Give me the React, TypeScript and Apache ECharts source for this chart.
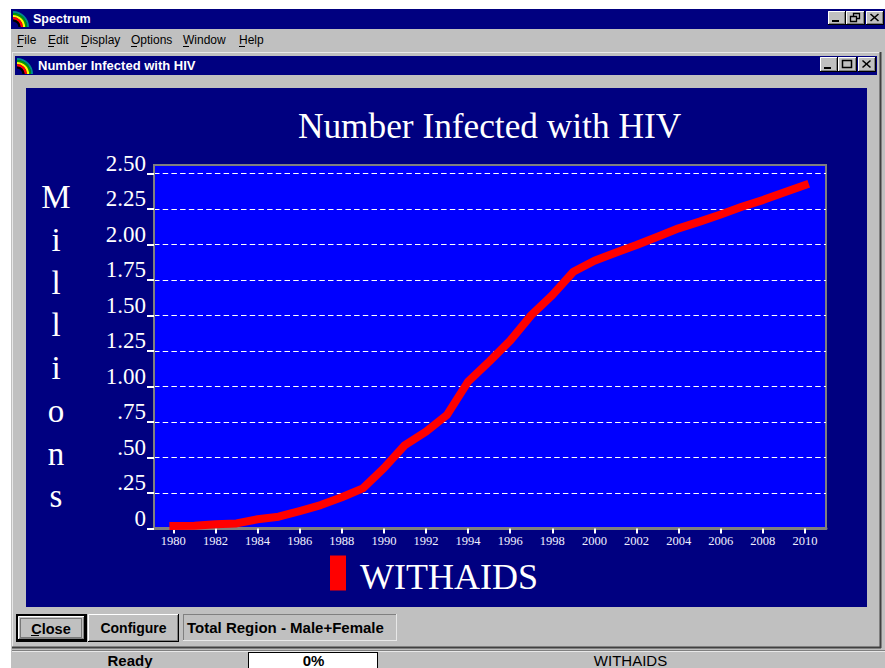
import React, { useEffect, useRef } from "react";
import * as echarts from "echarts";

const years = [1980,1981,1982,1983,1984,1985,1986,1987,1988,1989,1990,1991,1992,1993,1994,1995,1996,1997,1998,1999,2000,2001,2002,2003,2004,2005,2006,2007,2008,2009,2010];
const withAids = [0.018,0.02,0.03,0.036,0.065,0.083,0.123,0.165,0.22,0.283,0.425,0.588,0.682,0.8,1.034,1.175,1.323,1.503,1.644,1.808,1.886,1.942,1.996,2.055,2.114,2.161,2.212,2.266,2.313,2.367,2.419];
const xTickYears = [1980,1982,1984,1986,1988,1990,1992,1994,1996,1998,2000,2002,2004,2006,2008,2010];
const yTicks = [0,0.25,0.5,0.75,1,1.25,1.5,1.75,2,2.25,2.5];
const yTickLabels = ["0",".25",".50",".75","1.00","1.25","1.50","1.75","2.00","2.25","2.50"];
const menuItems: [string, number][] = [["File",17],["Edit",48],["Display",81],["Options",131],["Window",183],["Help",239]];

const GRAY = "#c0c0c0", NAVY = "#000080", DARK = "#808080", BLACK = "#000000", WHITE = "#ffffff";
const UI = "'Liberation Sans', sans-serif";

function rect(x: number, y: number, w: number, h: number, fill: string, extra: any = {}) {
  return { type: "rect", z: -1, silent: true, shape: { x, y, width: w, height: h }, style: { fill, ...extra } };
}
function line(x1: number, y1: number, x2: number, y2: number, stroke: string, lineWidth = 1, extra: any = {}) {
  return { type: "line", z: -1, silent: true, shape: { x1, y1, x2, y2 }, style: { stroke, lineWidth, ...extra } };
}
function label(text: string, x: number, y: number, font: string, fill = BLACK, align = "left") {
  return { type: "text", z: -1, silent: true, x, y, style: { text, font, fill, align, verticalAlign: "middle" } };
}
function bevel(x: number, y: number, w: number, h: number) {
  return [
    rect(x, y, w, h, GRAY),
    line(x + 0.5, y + 0.5, x + w - 1, y + 0.5, WHITE),
    line(x + 0.5, y + 0.5, x + 0.5, y + h - 1, WHITE),
    line(x + w - 0.5, y, x + w - 0.5, y + h, BLACK),
    line(x, y + h - 0.5, x + w, y + h - 0.5, BLACK),
    line(x + w - 1.5, y + 1, x + w - 1.5, y + h - 1, DARK),
    line(x + 1, y + h - 1.5, x + w - 1, y + h - 1.5, DARK),
  ];
}
function rainbow(cx: number, cy: number) {
  const arcs: [number, string, number][] = [[15, "#008c8c", 2], [13, "#00a000", 2], [11, "#ffff00", 2.2], [8.8, "#ff0000", 2.4], [6.5, "#000000", 2.2]];
  return arcs.map(([r, c, w]) => ({
    type: "arc", z: -1, silent: true,
    shape: { cx, cy, r, startAngle: Math.PI * 1.5, endAngle: Math.PI * 2, clockwise: true },
    style: { stroke: c, lineWidth: w, fill: "none" },
  }));
}
function btnMin(x: number, y: number, w: number, h: number) {
  return [...bevel(x, y, w, h), rect(x + 4, y + h - 5, 7, 2, BLACK)];
}
function btnClose(x: number, y: number, w: number, h: number) {
  const cx = x + w / 2 - 0.5, cy = y + h / 2 - 0.5;
  return [...bevel(x, y, w, h), line(cx - 4, cy - 3.5, cx + 4, cy + 3.5, BLACK, 1.6), line(cx + 4, cy - 3.5, cx - 4, cy + 3.5, BLACK, 1.6)];
}
function btnMax(x: number, y: number, w: number, h: number) {
  return [...bevel(x, y, w, h), { type: "rect", z: -1, silent: true, shape: { x: x + 4.5, y: y + 3.5, width: 9, height: 7 }, style: { fill: "none", stroke: BLACK, lineWidth: 1.5 } }];
}
function btnRestore(x: number, y: number, w: number, h: number) {
  return [
    ...bevel(x, y, w, h),
    { type: "rect", z: -1, silent: true, shape: { x: x + 7.5, y: y + 2.5, width: 6, height: 5 }, style: { fill: "none", stroke: BLACK, lineWidth: 1.3 } },
    { type: "rect", z: -1, silent: true, shape: { x: x + 4.5, y: y + 5.5, width: 6, height: 5 }, style: { fill: GRAY, stroke: BLACK, lineWidth: 1.3 } },
  ];
}

function chrome(): any[] {
  const els: any[] = [];
  // application window
  els.push(rect(11, 9, 874, 659, GRAY));
  els.push(rect(11, 9, 874, 20, NAVY));
  els.push(...rainbow(13, 27));
  els.push(label("Spectrum", 33, 19, `bold 12.5px ${UI}`, WHITE));
  els.push(...btnMin(828, 11, 18, 14), ...btnRestore(846, 11, 19, 14), ...btnClose(866, 11, 18, 14));
  // menu
  for (const [t, x] of menuItems) {
    els.push(label(t, x, 40, `12px ${UI}`));
    els.push(line(x, 46.5, x + 6, 46.5, BLACK));
  }
  // child window
  els.push(line(12, 52.5, 880, 52.5, "#e8e8e8", 1));
  els.push(line(12.5, 52, 12.5, 648, "#e8e8e8", 1));
  els.push(line(880.5, 52, 880.5, 648, "#404040", 2));
  els.push(line(12, 647.5, 881, 647.5, "#404040", 2));
  els.push(rect(15, 56, 862, 19, NAVY));
  els.push(...rainbow(17, 74));
  els.push(label("Number Infected with HIV", 38, 65.5, `bold 13px ${UI}`, WHITE));
  els.push(...btnMin(820, 57, 18, 15), ...btnMax(838, 57, 19, 15), ...btnClose(858, 57, 18, 15));
  // chart panel
  els.push(rect(26, 88, 841, 519, NAVY));
  // bottom buttons
  els.push(rect(16, 614, 71, 28, BLACK));
  els.push(...bevel(18, 616, 67, 24));
  els.push({ type: "rect", z: -1, silent: true, shape: { x: 20.5, y: 618.5, width: 61, height: 19 }, style: { fill: "none", stroke: "#303030", lineWidth: 1, lineDash: [1, 1] } });
  els.push(label("Close", 51, 628.5, `bold 14.5px ${UI}`, BLACK, "center"));
  els.push(line(31, 635.5, 39, 635.5, BLACK));
  els.push(...bevel(88, 614, 91, 28));
  els.push(label("Configure", 133.5, 628, `bold 14px ${UI}`, BLACK, "center"));
  els.push(rect(183, 614, 214, 27, GRAY));
  els.push(line(183, 614.5, 397, 614.5, DARK));
  els.push(line(183.5, 614, 183.5, 641, DARK));
  els.push(line(183, 640.5, 397, 640.5, "#e8e8e8"));
  els.push(line(396.5, 614, 396.5, 641, "#e8e8e8"));
  els.push(label("Total Region - Male+Female", 187, 627, `bold 15px ${UI}`));
  // status bar
  els.push(line(12, 650.5, 885, 650.5, DARK));
  els.push(line(12, 651.5, 885, 651.5, "#e8e8e8"));
  els.push(label("Ready", 130, 660, `bold 15px ${UI}`, BLACK, "center"));
  els.push(rect(248, 652, 130, 16, WHITE));
  els.push(line(248, 652.5, 378, 652.5, BLACK));
  els.push(line(248.5, 652, 248.5, 668, BLACK));
  els.push(line(377.5, 652, 377.5, 668, BLACK));
  els.push(label("0%", 313.5, 660, `bold 15px ${UI}`, BLACK, "center"));
  els.push(label("WITHAIDS", 630.5, 660, `15px ${UI}`, BLACK, "center"));
  return els;
}

export default function App() {
  const ref = useRef<HTMLDivElement>(null);
  useEffect(() => {
    const chart = echarts.init(ref.current!, undefined, { renderer: "svg" });
    const serif = "'Liberation Serif', serif";
    chart.setOption({
      animation: false,
      title: {
        text: "Number Infected with HIV",
        left: 489.5, top: 105, padding: 0, textAlign: "center",
        textStyle: { color: WHITE, fontFamily: serif, fontSize: 35.3, fontWeight: "normal", lineHeight: 42 },
      },
      legend: {
        left: 330, top: 551.5, padding: 0, icon: "rect", itemWidth: 16, itemHeight: 35,
        itemStyle: { color: "#ff0000" },
        data: ["WITHAIDS"],
        formatter: "{a|{name}}",
        textStyle: {
          color: WHITE, fontFamily: serif, fontSize: 36,
          rich: { a: { color: WHITE, fontFamily: serif, fontSize: 36, lineHeight: 40, padding: [7, 0, 0, 9] } },
        },
      },
      graphic: { elements: chrome() },
      grid: {
        left: 154, top: 165, width: 672, height: 363.5, show: true,
        backgroundColor: "#0000ff", borderColor: DARK, borderWidth: 2,
      },
      xAxis: {
        type: "value", min: 1979.08, max: 2011,
        axisLine: { show: true, onZero: false, lineStyle: { color: DARK, width: 3 } },
        axisTick: { show: true, customValues: xTickYears, length: 5, lineStyle: { color: WHITE, width: 2 } },
        axisLabel: { customValues: xTickYears, color: "#f0f0ff", fontFamily: serif, fontSize: 12.5, margin: 6, formatter: (v: number) => String(v) },
        splitLine: { show: false },
      },
      yAxis: {
        type: "value", min: 0, max: 2.56,
        name: "M\ni\nl\nl\ni\no\nn\ns",
        nameLocation: "middle", nameRotate: 0, nameGap: 98,
        nameTextStyle: { color: WHITE, fontFamily: serif, fontSize: 33, lineHeight: 42.7, align: "center" },
        axisLine: { show: true, lineStyle: { color: DARK, width: 2 } },
        axisTick: { show: true, customValues: yTicks, length: 7, lineStyle: { color: WHITE, width: 2 } },
        axisLabel: {
          customValues: yTicks, color: WHITE, fontFamily: serif, fontSize: 23, margin: 8,
          verticalAlign: "bottom", lineHeight: 21,
          formatter: (v: number) => yTickLabels[yTicks.indexOf(v)] ?? "",
        },
        splitLine: { show: true, showMinLine: false, showMaxLine: true, lineStyle: { color: WHITE, width: 1, type: [5.5, 3.2] } },
      },
      series: [{
        name: "WITHAIDS", type: "line", showSymbol: false, symbol: "none", smooth: false,
        data: years.map((y, i) => [y, withAids[i]]),
        lineStyle: { color: "#ff0000", width: 8, cap: "square", join: "round" },
        itemStyle: { color: "#ff0000" },
      }],
    });
    return () => chart.dispose();
  }, []);
  return <div ref={ref} style={{ position: "fixed", left: 0, top: 0, width: 885, height: 668, background: "#fff" }} />;
}
